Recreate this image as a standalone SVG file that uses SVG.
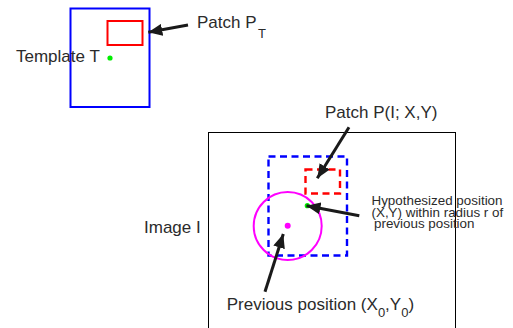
<svg xmlns="http://www.w3.org/2000/svg" width="513" height="328" viewBox="0 0 513 328">
<style>
text{font-family:"Liberation Sans",Arial,sans-serif;fill:#2b2b2b;}
.lbl{font-size:17px;}
.sm{font-size:13.4px;}
.sub{font-size:13px;}
.conn{stroke:#1a1a1a;stroke-width:3;fill:none;marker-end:url(#ah);}
.dash{fill:none;stroke-width:2.4;stroke-dasharray:7 4.5;}
</style>
<defs>
<marker id="ah" markerUnits="userSpaceOnUse" markerWidth="16" markerHeight="12" refX="14" refY="6" orient="auto">
<path d="M0,0 L14,6 L0,12 Z" fill="#1a1a1a"/>
</marker>
</defs>
<rect width="513" height="328" fill="#fff"/>
<g id="template">
<rect x="70.5" y="8.5" width="79" height="98.5" fill="none" stroke="#0000ff" stroke-width="2"/>
<text class="lbl" x="16" y="62">Template T</text>
<circle cx="110" cy="58" r="2.6" fill="#00ee00"/>
</g>
<g id="patchT">
<rect x="107.5" y="21" width="35" height="24" fill="none" stroke="#ff0000" stroke-width="2"/>
<text class="lbl" x="197" y="28.3">Patch P</text>
<text class="sub" x="258" y="38.3">T</text>
</g>
<g id="image">
<rect x="208.5" y="132.5" width="247" height="210" fill="none" stroke="#000" stroke-width="1"/>
<text class="lbl" x="144" y="233.3">Image I</text>
</g>
<g id="search">
<rect x="268.5" y="156.5" width="78.5" height="99" class="dash" stroke="#0000ff"/>
</g>
<g id="patchP">
<rect x="305.5" y="169.5" width="34.5" height="24" class="dash" stroke="#ff0000"/>
<text class="lbl" x="325" y="118.3">Patch P(I; X,Y)</text>
</g>
<g id="radius">
<circle cx="287.7" cy="226" r="34" fill="none" stroke="#ff00ff" stroke-width="2"/>
</g>
<g id="previous">
<circle cx="287.7" cy="225.7" r="3" fill="#ff00ff"/>
<text class="lbl" x="226.7" y="310">Previous position (X<tspan class="sub" dy="6.5">0</tspan><tspan dy="-6.5">,Y</tspan><tspan class="sub" dy="6.5">0</tspan><tspan dy="-6.5">)</tspan></text>
</g>
<g id="hypothesized">
<circle cx="307.3" cy="205.7" r="2.6" fill="#00ee00"/>
<text class="sm" x="371.5" y="205">Hypothesized position</text>
<text class="sm" x="371.5" y="216.7"> (X,Y) within radius r of</text>
<text class="sm" x="374" y="228.3">previous position</text>
</g>
<g id="connectors">
<line class="conn" x1="188" y1="25" x2="148.3" y2="32.3"/>
<line class="conn" x1="349" y1="127.3" x2="317.3" y2="178.3"/>
<line class="conn" x1="359.3" y1="215.7" x2="306.5" y2="205.8"/>
<line class="conn" x1="265" y1="291.7" x2="283.3" y2="234"/>
</g>
</svg>
